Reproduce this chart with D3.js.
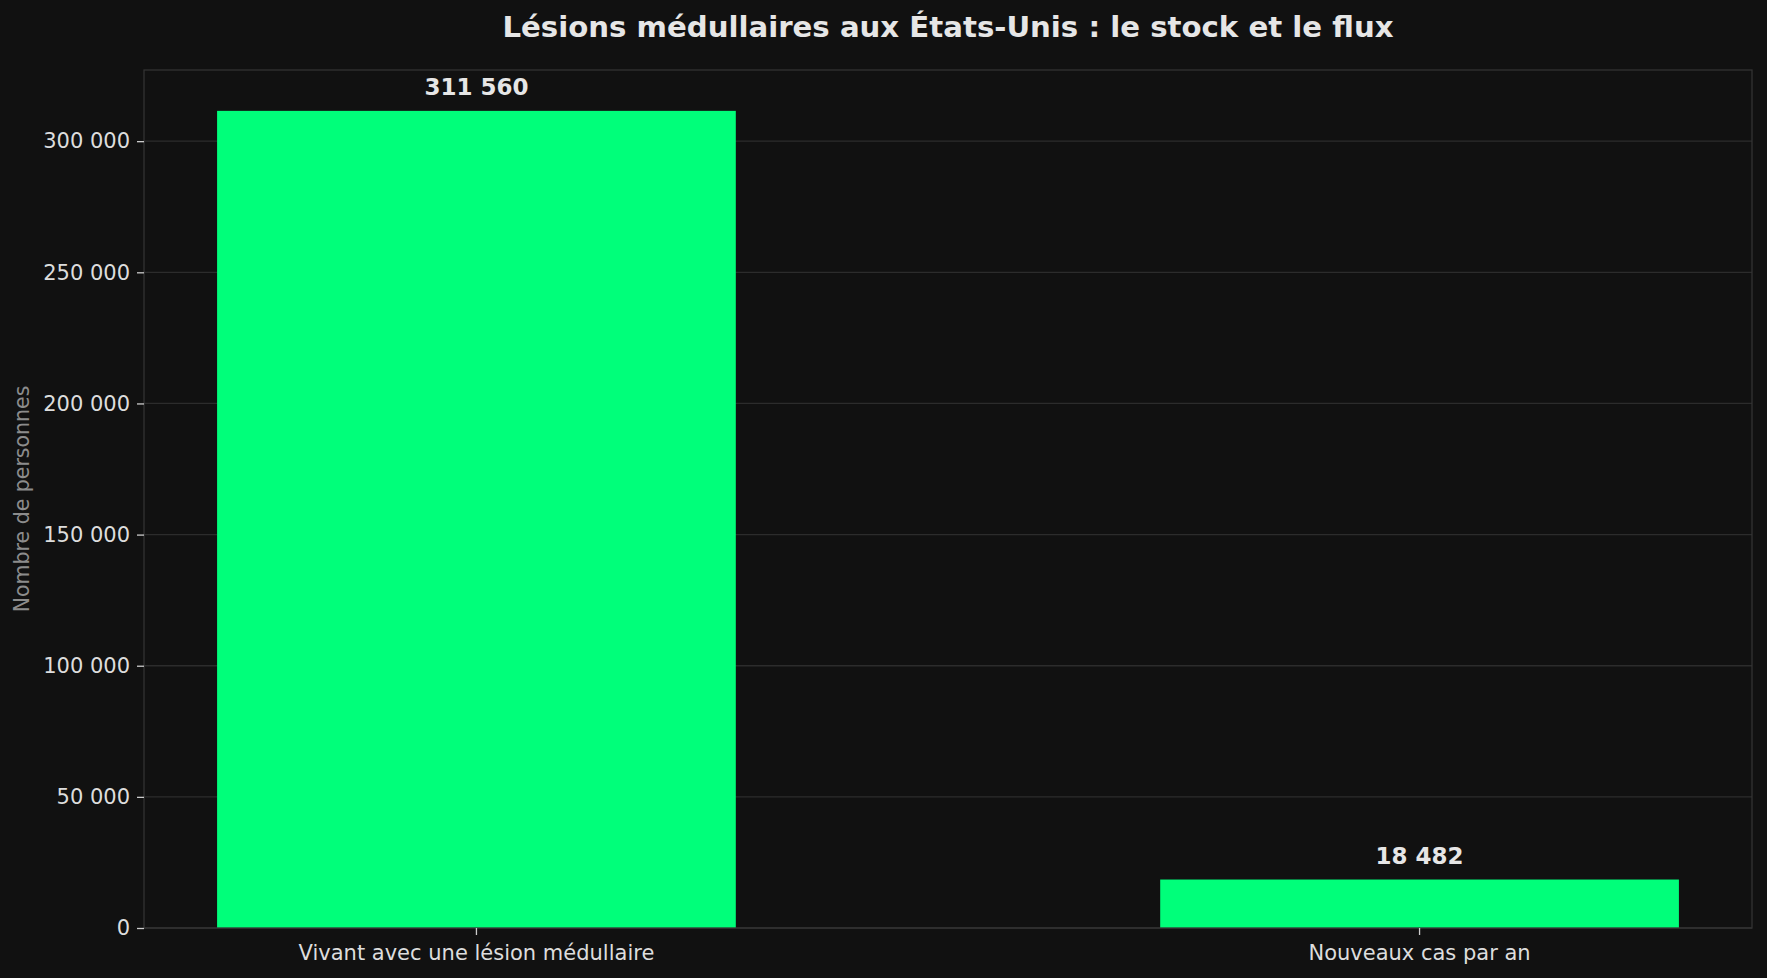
<!DOCTYPE html>
<html>
<head>
<meta charset="utf-8">
<script src="https://cdn.jsdelivr.net/npm/d3@7"></script>
<style>
  html, body { margin: 0; padding: 0; background: #111111; }
  svg { display: block; font-family: "DejaVu Sans", sans-serif; }
</style>
</head>
<body>
<svg id="chart" width="1767" height="978"></svg>
<script>
// data
var categories = ["Vivant avec une lésion médullaire", "Nouveaux cas par an"];
var values = [311560, 18482];
var yTicks = [0, 50000, 100000, 150000, 200000, 250000, 300000];
var title = "Lésions médullaires aux États-Unis : le stock et le flux";
var yLabel = "Nombre de personnes";

var svg = d3.select("svg#chart");
var width = +svg.attr("width"),
    height = +svg.attr("height");

var margin = {top: 70, right: 15, bottom: 50, left: 144};

var fr = d3.formatLocale({decimal: ",", thousands: " ", grouping: [3], currency: ["", " €"]});
var fmt = fr.format(",d");

// background
svg.append("rect")
   .attr("width", width)
   .attr("height", height)
   .attr("fill", "#111111");

var x = d3.scaleBand()
          .domain(categories)
          .range([margin.left, width - margin.right])
          .paddingInner(0.45)
          .paddingOuter(0.0775);

var y = d3.scaleLinear()
          .domain([0, d3.max(values) * 1.05])
          .range([height - margin.bottom, margin.top]);

// grid
svg.append("g")
   .selectAll("line")
   .data(yTicks)
   .enter().append("line")
   .attr("x1", margin.left)
   .attr("x2", width - margin.right)
   .attr("y1", function(d) { return y(d); })
   .attr("y2", function(d) { return y(d); })
   .attr("stroke", "#2c2c2c")
   .attr("stroke-width", 1.3);

// bars
svg.append("g")
   .selectAll("rect")
   .data(values)
   .enter().append("rect")
   .attr("x", function(d, i) { return x(categories[i]); })
   .attr("y", function(d) { return y(d); })
   .attr("width", x.bandwidth())
   .attr("height", function(d) { return y(0) - y(d); })
   .attr("fill", "#00ff7a");

// frame
svg.append("rect")
   .attr("x", margin.left)
   .attr("y", margin.top)
   .attr("width", width - margin.left - margin.right)
   .attr("height", height - margin.top - margin.bottom)
   .attr("fill", "none")
   .attr("stroke", "#333333")
   .attr("stroke-width", 1.3);

// axes
var yAxis = svg.append("g")
   .attr("transform", "translate(" + margin.left + ",0)")
   .call(d3.axisLeft(y).tickValues(yTicks).tickFormat(fmt).tickSize(7).tickPadding(7));

var xAxis = svg.append("g")
   .attr("transform", "translate(0," + (height - margin.bottom) + ")")
   .call(d3.axisBottom(x).tickSize(7).tickPadding(10));

[yAxis, xAxis].forEach(function(a) {
  a.select(".domain").remove();
  a.selectAll(".tick line").attr("stroke", "#cccccc").attr("stroke-width", 1.3);
  a.selectAll(".tick text")
   .attr("fill", "#dddddd")
   .style("font-family", "DejaVu Sans")
   .style("font-size", "21px");
});

// value labels
svg.append("g")
   .selectAll("text")
   .data(values)
   .enter().append("text")
   .attr("x", function(d, i) { return x(categories[i]) + x.bandwidth() / 2; })
   .attr("y", function(d) { return y(d) - 16; })
   .attr("text-anchor", "middle")
   .attr("fill", "#e6e6e6")
   .style("font-size", "23px")
   .style("font-weight", "bold")
   .text(function(d) { return fmt(d); });

// y label
svg.append("text")
   .attr("transform", "translate(29," + ((margin.top + height - margin.bottom) / 2) + ") rotate(-90)")
   .attr("text-anchor", "middle")
   .attr("fill", "#8c8c8c")
   .style("font-size", "20.5px")
   .text(yLabel);

// title
svg.append("text")
   .attr("x", (margin.left + width - margin.right) / 2)
   .attr("y", 37)
   .attr("text-anchor", "middle")
   .attr("fill", "#e6e6e6")
   .style("font-size", "29.2px")
   .style("font-weight", "bold")
   .text(title);
</script>
</body>
</html>
